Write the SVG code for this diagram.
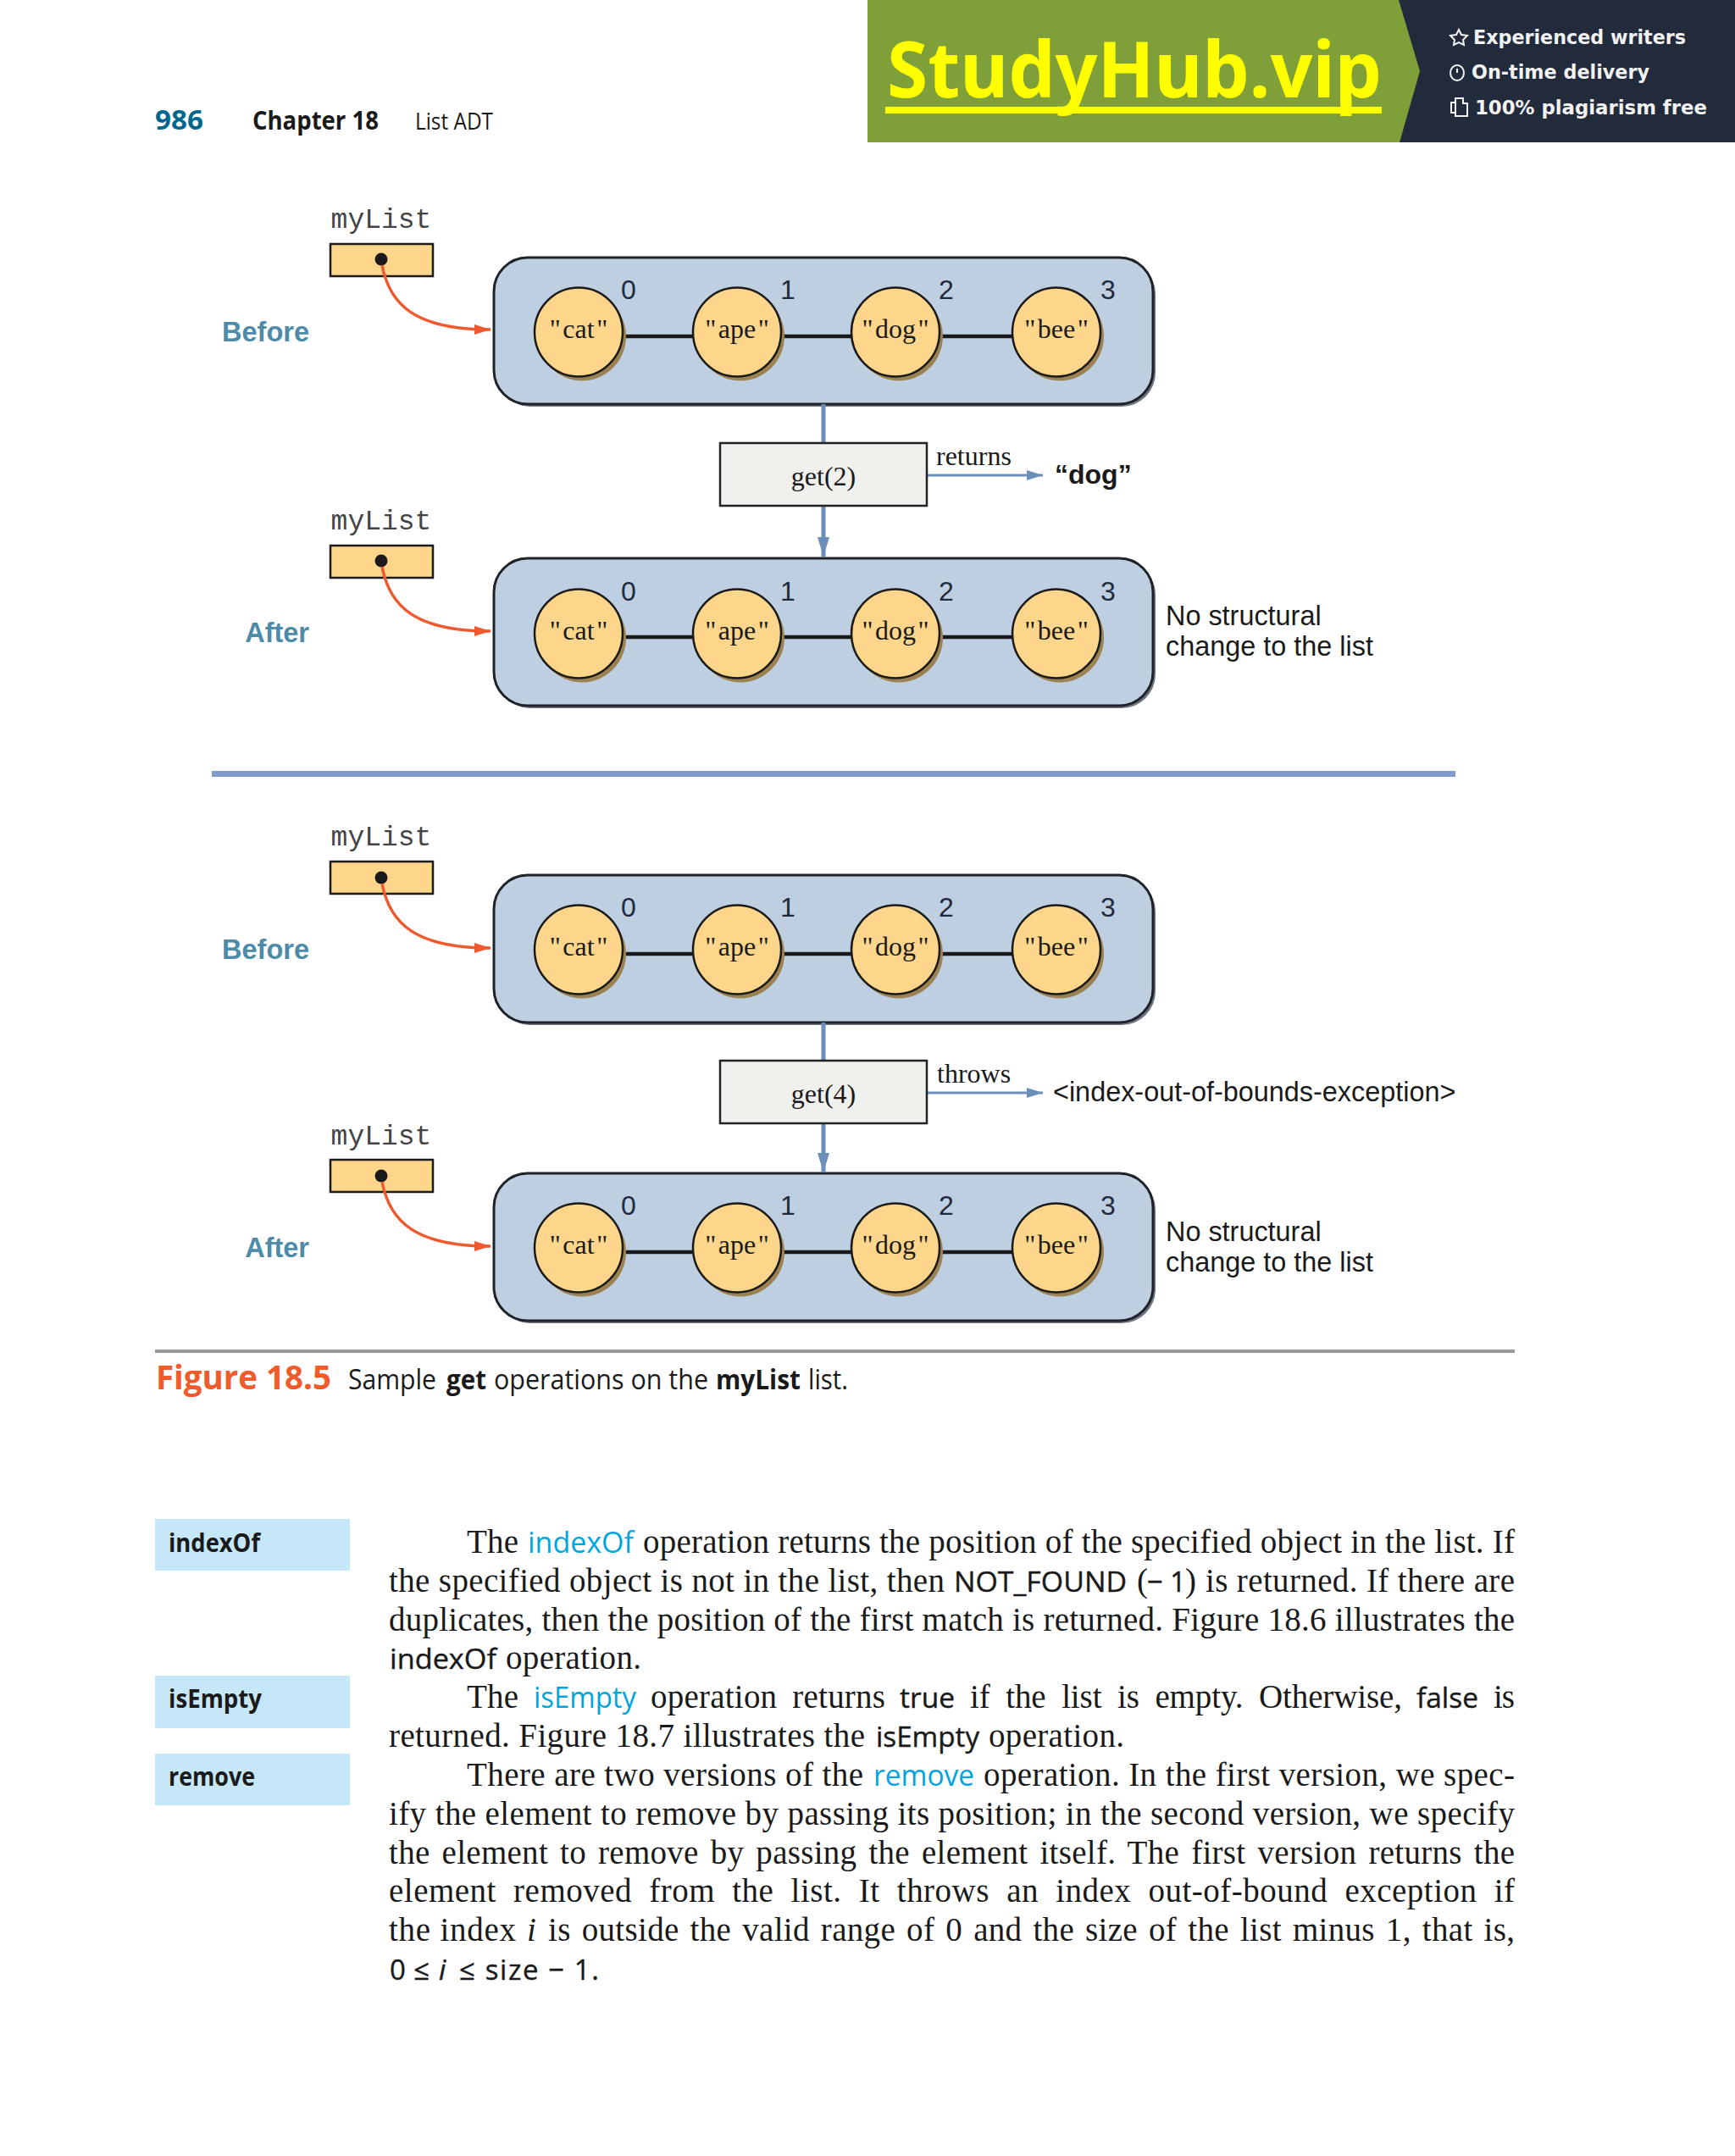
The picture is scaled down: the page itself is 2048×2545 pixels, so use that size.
<svg xmlns="http://www.w3.org/2000/svg" width="2048" height="2545" viewBox="0 0 2048 2545">
<style>
.box{fill:#bfcfe2;stroke:#1f2328;stroke-width:3}
.boxs{fill:#6c7480}
.sh{fill:#9c8250}
.nd{fill:#fdd68c;stroke:#1a1a1a;stroke-width:2.5}
.v{font:32px "Liberation Serif",serif;fill:#1a1a1a;text-anchor:middle}
.i{font:32px "Liberation Sans",sans-serif;fill:#1f2a3a;text-anchor:middle}
.ml{font:33px "Liberation Mono",monospace;fill:#444;text-anchor:middle}
.pb{fill:#fdd68c;stroke:#1a1a1a;stroke-width:2.5}
.st{font:bold 32.5px "Liberation Sans",sans-serif;fill:#4d8ba8;text-anchor:end}
.op{fill:#f0f0ec;stroke:#222;stroke-width:2.5}
.t32{font:32px "Liberation Serif",serif;fill:#1a1a1a}
.s32{font:32.4px "Liberation Sans",sans-serif;fill:#1a1a1a}
.lk{fill:none;stroke:#1a1a1a;stroke-width:4.5}
.pt{fill:none;stroke:#ee5a2e;stroke-width:3.5}
.fl{fill:none;stroke:#6b8fb8;stroke-width:5}
.fl2{fill:none;stroke:#6b8fb8;stroke-width:3}
.body{font:39px "Liberation Serif",serif;fill:#1a1a1a}
.m{font:33px "Open Sans",sans-serif;fill:#1a1a1a;stroke:#1a1a1a;stroke-width:.4}
.mi{font:italic 33px "Open Sans",sans-serif;fill:#1a1a1a;stroke:#1a1a1a;stroke-width:.4}
.c{font:35px "Open Sans",sans-serif;fill:#00a5de}
.it{font:italic 39px "Liberation Serif",serif;fill:#1a1a1a}
.side{fill:#c5e7f7}
.sl{font:bold 31px "Open Sans",sans-serif;fill:#1a1a1a}
.ban{font:bold 23px "DejaVu Sans",sans-serif;fill:#f2f2f2}
.ic{fill:none;stroke:#f2f2f2;stroke-width:2}
.cap{font:33px "Open Sans",sans-serif;fill:#1a1a1a}
.capb{font:bold 33px "Open Sans",sans-serif;fill:#1a1a1a}
</style>
<defs>
<marker id="ho" markerUnits="userSpaceOnUse" markerWidth="20" markerHeight="14" refX="19" refY="6" orient="auto"><path d="M0,0L19,6L0,12z" fill="#ee5a2e"/></marker>
<marker id="hb" markerUnits="userSpaceOnUse" markerWidth="24" markerHeight="16" refX="23" refY="7" orient="auto"><path d="M0,0L23,7L0,14z" fill="#6b8fb8"/></marker>
<marker id="hb2" markerUnits="userSpaceOnUse" markerWidth="20" markerHeight="14" refX="19" refY="6" orient="auto"><path d="M0,0L19,6L0,12z" fill="#6b8fb8"/></marker>
</defs>
<rect width="2048" height="2545" fill="#fff"/>

<g id="banner">
<rect x="1024" y="0" width="1024" height="168" fill="#7f9f38"/>
<path d="M1651,0H2048V168H1652L1676,84z" fill="#222b3c"/>
<text x="1047" y="115" textLength="584" lengthAdjust="spacingAndGlyphs" style="font:bold 92px 'Noto Sans',sans-serif;fill:#ffff00">StudyHub.vip</text>
<rect x="1045" y="126" width="586" height="8" fill="#ffff00"/>
<path class="ic" d="M1722,35l3,6 7,1-5,5 1,6-6-3-6,3 1-6-5-5 7-1z"/>
<text class="ban" x="1739" y="52" textLength="251" lengthAdjust="spacingAndGlyphs">Experienced writers</text>
<ellipse class="ic" cx="1720" cy="86" rx="8" ry="9"/><path class="ic" d="M1720,81v5"/>
<text class="ban" x="1737" y="93" textLength="210" lengthAdjust="spacingAndGlyphs">On-time delivery</text>
<path class="ic" d="M1718,116h9v6h5v15h-14z"/><path class="ic" d="M1718,121h-5v12h5"/>
<text class="ban" x="1741" y="135" textLength="274" lengthAdjust="spacingAndGlyphs">100% plagiarism free</text>
</g>

<g id="header">
<text x="183" y="153" textLength="57" lengthAdjust="spacingAndGlyphs" style="font:bold 33px 'Open Sans',sans-serif;fill:#00688f">986</text>
<text x="298" y="153" textLength="149" lengthAdjust="spacingAndGlyphs" style="font:bold 30px 'Open Sans',sans-serif;fill:#1a1a1a">Chapter 18</text>
<text x="490" y="153" textLength="92" lengthAdjust="spacingAndGlyphs" style="font:27px 'Open Sans',sans-serif;fill:#1a1a1a">List ADT</text>
</g>

<g id="list-a-box"><rect class="boxs" x="586" y="307" width="778" height="173" rx="40"/><rect class="box" x="583" y="304" width="778" height="173" rx="40"/></g>
<g id="list-b-box"><rect class="boxs" x="586" y="662" width="778" height="174" rx="40"/><rect class="box" x="583" y="659" width="778" height="174" rx="40"/></g>
<g id="list-c-box"><rect class="boxs" x="586" y="1036" width="778" height="174" rx="40"/><rect class="box" x="583" y="1033" width="778" height="174" rx="40"/></g>
<g id="list-d-box"><rect class="boxs" x="586" y="1388" width="778" height="174" rx="40"/><rect class="box" x="583" y="1385" width="778" height="174" rx="40"/></g>

<g id="a-pointer"><text class="ml" x="450" y="269">myList</text><rect class="pb" x="390" y="288" width="121" height="38"/><ellipse cx="450" cy="306" rx="7.5" ry="7.5" fill="#1a1a1a"/></g>
<g id="b-pointer"><text class="ml" x="450" y="625">myList</text><rect class="pb" x="390" y="644" width="121" height="38"/><ellipse cx="450" cy="662" rx="7.5" ry="7.5" fill="#1a1a1a"/></g>
<g id="c-pointer"><text class="ml" x="450" y="998">myList</text><rect class="pb" x="390" y="1017" width="121" height="38"/><ellipse cx="450" cy="1036" rx="7.5" ry="7.5" fill="#1a1a1a"/></g>
<g id="d-pointer"><text class="ml" x="450" y="1351">myList</text><rect class="pb" x="390" y="1369" width="121" height="38"/><ellipse cx="450" cy="1388" rx="7.5" ry="7.5" fill="#1a1a1a"/></g>

<g id="connectors">
<path class="lk" d="M735,397H820M922,397H1005M1109,397H1195"/>
<path class="lk" d="M735,752H820M922,752H1005M1109,752H1195"/>
<path class="lk" d="M735,1126H820M922,1126H1005M1109,1126H1195"/>
<path class="lk" d="M735,1478H820M922,1478H1005M1109,1478H1195"/>
<path class="pt" marker-end="url(#ho)" d="M451,313C460,360 490,389 579,389"/>
<path class="pt" marker-end="url(#ho)" d="M451,669C460,716 490,745 579,745"/>
<path class="pt" marker-end="url(#ho)" d="M451,1043C460,1090 490,1119 579,1119"/>
<path class="pt" marker-end="url(#ho)" d="M451,1395C460,1442 490,1471 579,1471"/>
<path class="fl" d="M972,477V523"/>
<path class="fl" marker-end="url(#hb)" d="M972,597V657"/>
<path class="fl2" marker-end="url(#hb2)" d="M1094,561H1231"/>
<path class="fl" d="M972,1207V1252"/>
<path class="fl" marker-end="url(#hb)" d="M972,1326V1384"/>
<path class="fl2" marker-end="url(#hb2)" d="M1094,1290H1231"/>
</g>

<text class="st" x="365" y="403">Before</text>
<text class="st" x="365" y="758">After</text>
<text class="st" x="365" y="1132">Before</text>
<text class="st" x="365" y="1484">After</text>

<g id="a0" transform="translate(683,392)"><ellipse class="sh" cx="4" cy="5" rx="52" ry="52.5"/><ellipse class="nd" rx="52" ry="52.5"/><text class="v" y="7">"<tspan dx="2.5">cat</tspan><tspan dx="2.5">"</tspan></text><text class="i" x="59" y="-39">0</text></g>
<g id="a1" transform="translate(870,392)"><ellipse class="sh" cx="4" cy="5" rx="52" ry="52.5"/><ellipse class="nd" rx="52" ry="52.5"/><text class="v" y="7">"<tspan dx="2.5">ape</tspan><tspan dx="2.5">"</tspan></text><text class="i" x="60" y="-39">1</text></g>
<g id="a2" transform="translate(1057,392)"><ellipse class="sh" cx="4" cy="5" rx="52" ry="52.5"/><ellipse class="nd" rx="52" ry="52.5"/><text class="v" y="7">"<tspan dx="2.5">dog</tspan><tspan dx="2.5">"</tspan></text><text class="i" x="60" y="-39">2</text></g>
<g id="a3" transform="translate(1247,392)"><ellipse class="sh" cx="4" cy="5" rx="52" ry="52.5"/><ellipse class="nd" rx="52" ry="52.5"/><text class="v" y="7">"<tspan dx="2.5">bee</tspan><tspan dx="2.5">"</tspan></text><text class="i" x="61" y="-39">3</text></g>

<g id="b0" transform="translate(683,748)"><ellipse class="sh" cx="4" cy="5" rx="52" ry="52.5"/><ellipse class="nd" rx="52" ry="52.5"/><text class="v" y="7">"<tspan dx="2.5">cat</tspan><tspan dx="2.5">"</tspan></text><text class="i" x="59" y="-39">0</text></g>
<g id="b1" transform="translate(870,748)"><ellipse class="sh" cx="4" cy="5" rx="52" ry="52.5"/><ellipse class="nd" rx="52" ry="52.5"/><text class="v" y="7">"<tspan dx="2.5">ape</tspan><tspan dx="2.5">"</tspan></text><text class="i" x="60" y="-39">1</text></g>
<g id="b2" transform="translate(1057,748)"><ellipse class="sh" cx="4" cy="5" rx="52" ry="52.5"/><ellipse class="nd" rx="52" ry="52.5"/><text class="v" y="7">"<tspan dx="2.5">dog</tspan><tspan dx="2.5">"</tspan></text><text class="i" x="60" y="-39">2</text></g>
<g id="b3" transform="translate(1247,748)"><ellipse class="sh" cx="4" cy="5" rx="52" ry="52.5"/><ellipse class="nd" rx="52" ry="52.5"/><text class="v" y="7">"<tspan dx="2.5">bee</tspan><tspan dx="2.5">"</tspan></text><text class="i" x="61" y="-39">3</text></g>

<g id="c0" transform="translate(683,1121)"><ellipse class="sh" cx="4" cy="5" rx="52" ry="52.5"/><ellipse class="nd" rx="52" ry="52.5"/><text class="v" y="7">"<tspan dx="2.5">cat</tspan><tspan dx="2.5">"</tspan></text><text class="i" x="59" y="-39">0</text></g>
<g id="c1" transform="translate(870,1121)"><ellipse class="sh" cx="4" cy="5" rx="52" ry="52.5"/><ellipse class="nd" rx="52" ry="52.5"/><text class="v" y="7">"<tspan dx="2.5">ape</tspan><tspan dx="2.5">"</tspan></text><text class="i" x="60" y="-39">1</text></g>
<g id="c2" transform="translate(1057,1121)"><ellipse class="sh" cx="4" cy="5" rx="52" ry="52.5"/><ellipse class="nd" rx="52" ry="52.5"/><text class="v" y="7">"<tspan dx="2.5">dog</tspan><tspan dx="2.5">"</tspan></text><text class="i" x="60" y="-39">2</text></g>
<g id="c3" transform="translate(1247,1121)"><ellipse class="sh" cx="4" cy="5" rx="52" ry="52.5"/><ellipse class="nd" rx="52" ry="52.5"/><text class="v" y="7">"<tspan dx="2.5">bee</tspan><tspan dx="2.5">"</tspan></text><text class="i" x="61" y="-39">3</text></g>

<g id="d0" transform="translate(683,1473)"><ellipse class="sh" cx="4" cy="5" rx="52" ry="52.5"/><ellipse class="nd" rx="52" ry="52.5"/><text class="v" y="7">"<tspan dx="2.5">cat</tspan><tspan dx="2.5">"</tspan></text><text class="i" x="59" y="-39">0</text></g>
<g id="d1" transform="translate(870,1473)"><ellipse class="sh" cx="4" cy="5" rx="52" ry="52.5"/><ellipse class="nd" rx="52" ry="52.5"/><text class="v" y="7">"<tspan dx="2.5">ape</tspan><tspan dx="2.5">"</tspan></text><text class="i" x="60" y="-39">1</text></g>
<g id="d2" transform="translate(1057,1473)"><ellipse class="sh" cx="4" cy="5" rx="52" ry="52.5"/><ellipse class="nd" rx="52" ry="52.5"/><text class="v" y="7">"<tspan dx="2.5">dog</tspan><tspan dx="2.5">"</tspan></text><text class="i" x="60" y="-39">2</text></g>
<g id="d3" transform="translate(1247,1473)"><ellipse class="sh" cx="4" cy="5" rx="52" ry="52.5"/><ellipse class="nd" rx="52" ry="52.5"/><text class="v" y="7">"<tspan dx="2.5">bee</tspan><tspan dx="2.5">"</tspan></text><text class="i" x="61" y="-39">3</text></g>

<g id="op-get2"><rect class="op" x="850" y="523" width="244" height="74"/><text class="t32" x="972" y="573" text-anchor="middle">get(2)</text></g>
<text class="t32" x="1105" y="549">returns</text>
<text x="1245" y="571" style="font:bold 32px 'Liberation Sans',sans-serif;fill:#1a1a1a">“dog”</text>
<text class="s32" x="1376" y="738">No structural</text>
<text class="s32" x="1376" y="774">change to the list</text>

<rect id="divider" x="250" y="910" width="1468" height="7" fill="#7f9ccd"/>

<g id="op-get4"><rect class="op" x="850" y="1252" width="244" height="74"/><text class="t32" x="972" y="1302" text-anchor="middle">get(4)</text></g>
<text class="t32" x="1106" y="1278">throws</text>
<text class="s32" x="1243" y="1300">&lt;index-out-of-bounds-exception&gt;</text>
<text class="s32" x="1376" y="1465">No structural</text>
<text class="s32" x="1376" y="1501">change to the list</text>

<rect id="rule" x="183" y="1593" width="1605" height="4" fill="#9a9a9a"/>
<g id="caption">
<text x="184" y="1640" textLength="207" lengthAdjust="spacingAndGlyphs" style="font:bold 40px 'Open Sans',sans-serif;fill:#f15a29">Figure 18.5</text>
<text class="cap" x="411" y="1640" textLength="104" lengthAdjust="spacingAndGlyphs">Sample</text>
<text class="capb" x="527" y="1640" textLength="47" lengthAdjust="spacingAndGlyphs">get</text>
<text class="cap" x="583" y="1640" textLength="253" lengthAdjust="spacingAndGlyphs">operations on the</text>
<text class="capb" x="845" y="1640" textLength="100" lengthAdjust="spacingAndGlyphs">myList</text>
<text class="cap" x="954" y="1640" textLength="47" lengthAdjust="spacingAndGlyphs">list.</text>
</g>

<g id="side-indexOf"><rect class="side" x="183" y="1793" width="230" height="61"/><text class="sl" x="199" y="1832" textLength="108" lengthAdjust="spacingAndGlyphs">indexOf</text></g>
<g id="side-isEmpty"><rect class="side" x="183" y="1978" width="230" height="62"/><text class="sl" x="199" y="2016" textLength="110" lengthAdjust="spacingAndGlyphs">isEmpty</text></g>
<g id="side-remove"><rect class="side" x="183" y="2070" width="230" height="61"/><text class="sl" x="199" y="2108" textLength="102" lengthAdjust="spacingAndGlyphs">remove</text></g>

<g id="body">
<text class="body" x="551" y="1833" textLength="61">The</text>
<text class="c" x="623" y="1833" textLength="125" lengthAdjust="spacingAndGlyphs">indexOf</text>
<text class="body" x="759" y="1833" textLength="1029">operation returns the position of the specified object in the list. If</text>

<text class="body" x="459" y="1879" textLength="656">the specified object is not in the list, then</text>
<text class="m" x="1126" y="1879" textLength="204" lengthAdjust="spacingAndGlyphs">NOT_FOUND</text>
<text class="body" x="1342" y="1879">(</text>
<text class="m" x="1354" y="1879">−</text>
<text class="m" x="1381" y="1879">1</text>
<text class="body" x="1399" y="1879">)</text>
<text class="body" x="1423" y="1879" textLength="365">is returned. If there are</text>

<text class="body" x="459" y="1925" textLength="1329">duplicates, then the position of the first match is returned. Figure 18.6 illustrates the</text>

<text class="m" x="460" y="1970" textLength="126" lengthAdjust="spacingAndGlyphs">indexOf</text>
<text class="body" x="597" y="1970" textLength="160">operation.</text>

<text class="body" x="551" y="2016" textLength="61">The</text>
<text class="c" x="630" y="2016" textLength="121" lengthAdjust="spacingAndGlyphs">isEmpty</text>
<text class="body" x="768" y="2016" textLength="277" word-spacing="8">operation returns</text>
<text class="m" x="1062" y="2016" textLength="65" lengthAdjust="spacingAndGlyphs">true</text>
<text class="body" x="1145" y="2016" textLength="510" word-spacing="9">if the list is empty. Otherwise,</text>
<text class="m" x="1672" y="2016" textLength="73" lengthAdjust="spacingAndGlyphs">false</text>
<text class="body" x="1763" y="2016" textLength="25">is</text>

<text class="body" x="459" y="2062" textLength="562">returned. Figure 18.7 illustrates the</text>
<text class="m" x="1034" y="2062" textLength="122" lengthAdjust="spacingAndGlyphs">isEmpty</text>
<text class="body" x="1167" y="2062" textLength="160">operation.</text>

<text class="body" x="551" y="2108" textLength="468">There are two versions of the</text>
<text class="c" x="1031" y="2108" textLength="119" lengthAdjust="spacingAndGlyphs">remove</text>
<text class="body" x="1161" y="2108" textLength="627">operation. In the first version, we spec-</text>

<text class="body" x="459" y="2154" textLength="1329">ify the element to remove by passing its position; in the second version, we specify</text>
<text class="body" x="459" y="2200" textLength="1329" word-spacing="4">the element to remove by passing the element itself. The first version returns the</text>
<text class="body" x="459" y="2245" textLength="1329" word-spacing="10">element removed from the list. It throws an index out-of-bound exception if</text>

<text class="body" x="459" y="2291" textLength="150">the index</text>
<text class="it" x="622" y="2291">i</text>
<text class="body" x="647" y="2291" textLength="1141" word-spacing="3">is outside the valid range of 0 and the size of the list minus 1, that is,</text>

<text class="m" x="460" y="2337" textLength="47" lengthAdjust="spacing">0 ≤</text>
<text class="mi" x="518" y="2337">i</text>
<text class="m" x="542" y="2337" textLength="165" lengthAdjust="spacing">≤ size − 1.</text>
</g>
</svg>
